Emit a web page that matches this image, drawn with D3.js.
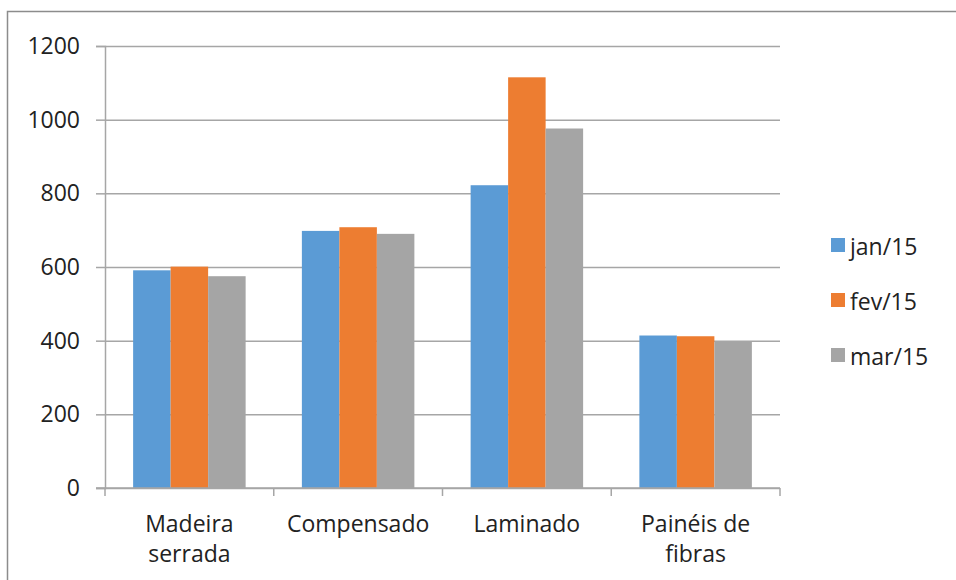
<!DOCTYPE html>
<html>
<head>
<meta charset="utf-8">
<script src="https://cdn.jsdelivr.net/npm/d3@7"></script>
<style>
  body { margin: 0; background: #fff; }
  text { font-family: "Open Sans", "Liberation Sans", sans-serif; fill: #222; }
</style>
</head>
<body>
<div id="chart"></div>
<script>
let categories = [["Madeira", "serrada"], ["Compensado"], ["Laminado"], ["Painéis de", "fibras"]];
let seriesNames = ["jan/15", "fev/15", "mar/15"];
let jan15 = [591, 698, 822, 414];
let fev15 = [601, 708, 1115, 412];
let mar15 = [575, 690, 976, 397];
let yTicks = [0, 200, 400, 600, 800, 1000, 1200];
let colors = ["#5b9bd5", "#ed7d31", "#a5a5a5"];

let series = [jan15, fev15, mar15];

let dim = { width: 956, height: 580 };
let plot = { left: 105, right: 780, top: 46, bottom: 488 };

let svg = d3.select("#chart").append("svg")
    .attr("width", dim.width)
    .attr("height", dim.height);

// outer chart border
svg.append("rect")
    .attr("x", 7.5).attr("y", 11.5)
    .attr("width", 1000).attr("height", 700)
    .attr("fill", "none")
    .attr("stroke", "#8c8c8c")
    .attr("stroke-width", 1.5);

let x = d3.scaleBand()
    .domain(d3.range(categories.length))
    .range([plot.left, plot.right]);

let gap = 1.5; // excel style gap width 150%
let barW = x.bandwidth() / (series.length + gap);

let x1 = d3.scaleBand()
    .domain(d3.range(series.length))
    .range([barW * gap / 2, barW * gap / 2 + barW * series.length]);

let y = d3.scaleLinear()
    .domain([0, 1200])
    .range([plot.bottom, plot.top]);

// gridlines
svg.append("g")
    .attr("class", "grid")
    .attr("transform", "translate(" + plot.left + ",0)")
    .call(d3.axisLeft(y).tickValues(yTicks).tickSize(-(plot.right - plot.left)).tickFormat(""))
    .call(g => g.select(".domain").remove())
    .call(g => g.selectAll("line").attr("stroke", "#a6a6a6").attr("stroke-width", 1.5));

// bars
series.forEach(function(vals, si) {
  svg.append("g")
      .selectAll("rect")
      .data(vals)
      .enter().append("rect")
      .attr("x", (d, i) => x(i) + x1(si))
      .attr("y", d => y(d))
      .attr("width", x1.bandwidth())
      .attr("height", d => y(0) - y(d))
      .attr("fill", colors[si]);
});

// y axis
let yAxis = svg.append("g")
    .attr("transform", "translate(" + plot.left + ",0)")
    .call(d3.axisLeft(y).tickValues(yTicks).tickSize(9).tickPadding(16).tickFormat(d3.format("d")));
yAxis.select(".domain").attr("stroke", "#a6a6a6").attr("stroke-width", 1.5);
yAxis.selectAll("line").attr("stroke", "#a6a6a6").attr("stroke-width", 1.5);
yAxis.selectAll("text").style("font-size", "23px").attr("fill", "#222");

// x axis
let xAxis = svg.append("g")
    .attr("transform", "translate(0," + plot.bottom + ")");
xAxis.append("line")
    .attr("x1", plot.left - 9).attr("x2", plot.right)
    .attr("stroke", "#a6a6a6").attr("stroke-width", 1.5);
xAxis.selectAll("line.tick")
    .data(d3.range(categories.length + 1))
    .enter().append("line")
    .attr("class", "tick")
    .attr("x1", i => i < categories.length ? x(i) : plot.right)
    .attr("x2", i => i < categories.length ? x(i) : plot.right)
    .attr("y1", 0).attr("y2", 8)
    .attr("stroke", "#a6a6a6").attr("stroke-width", 1.5);

let labels = xAxis.selectAll("text.cat")
    .data(categories)
    .enter().append("text")
    .attr("class", "cat")
    .attr("text-anchor", "middle")
    .attr("x", (d, i) => x(i) + x.bandwidth() / 2)
    .attr("y", 44)
    .style("font-size", "23px");
labels.selectAll("tspan")
    .data(d => d)
    .enter().append("tspan")
    .attr("x", function() { return d3.select(this.parentNode).attr("x"); })
    .attr("dy", (d, i) => i === 0 ? 0 : 30)
    .text(d => d);

// legend
let legend = svg.append("g")
    .attr("transform", "translate(831,238)");
let item = legend.selectAll("g")
    .data(seriesNames)
    .enter().append("g")
    .attr("transform", (d, i) => "translate(0," + i * 55 + ")");
item.append("rect")
    .attr("width", 14).attr("height", 14)
    .attr("fill", (d, i) => colors[i]);
item.append("text")
    .attr("x", 19).attr("y", 17)
    .style("font-size", "23px")
    .text(d => d);
</script>
</body>
</html>
